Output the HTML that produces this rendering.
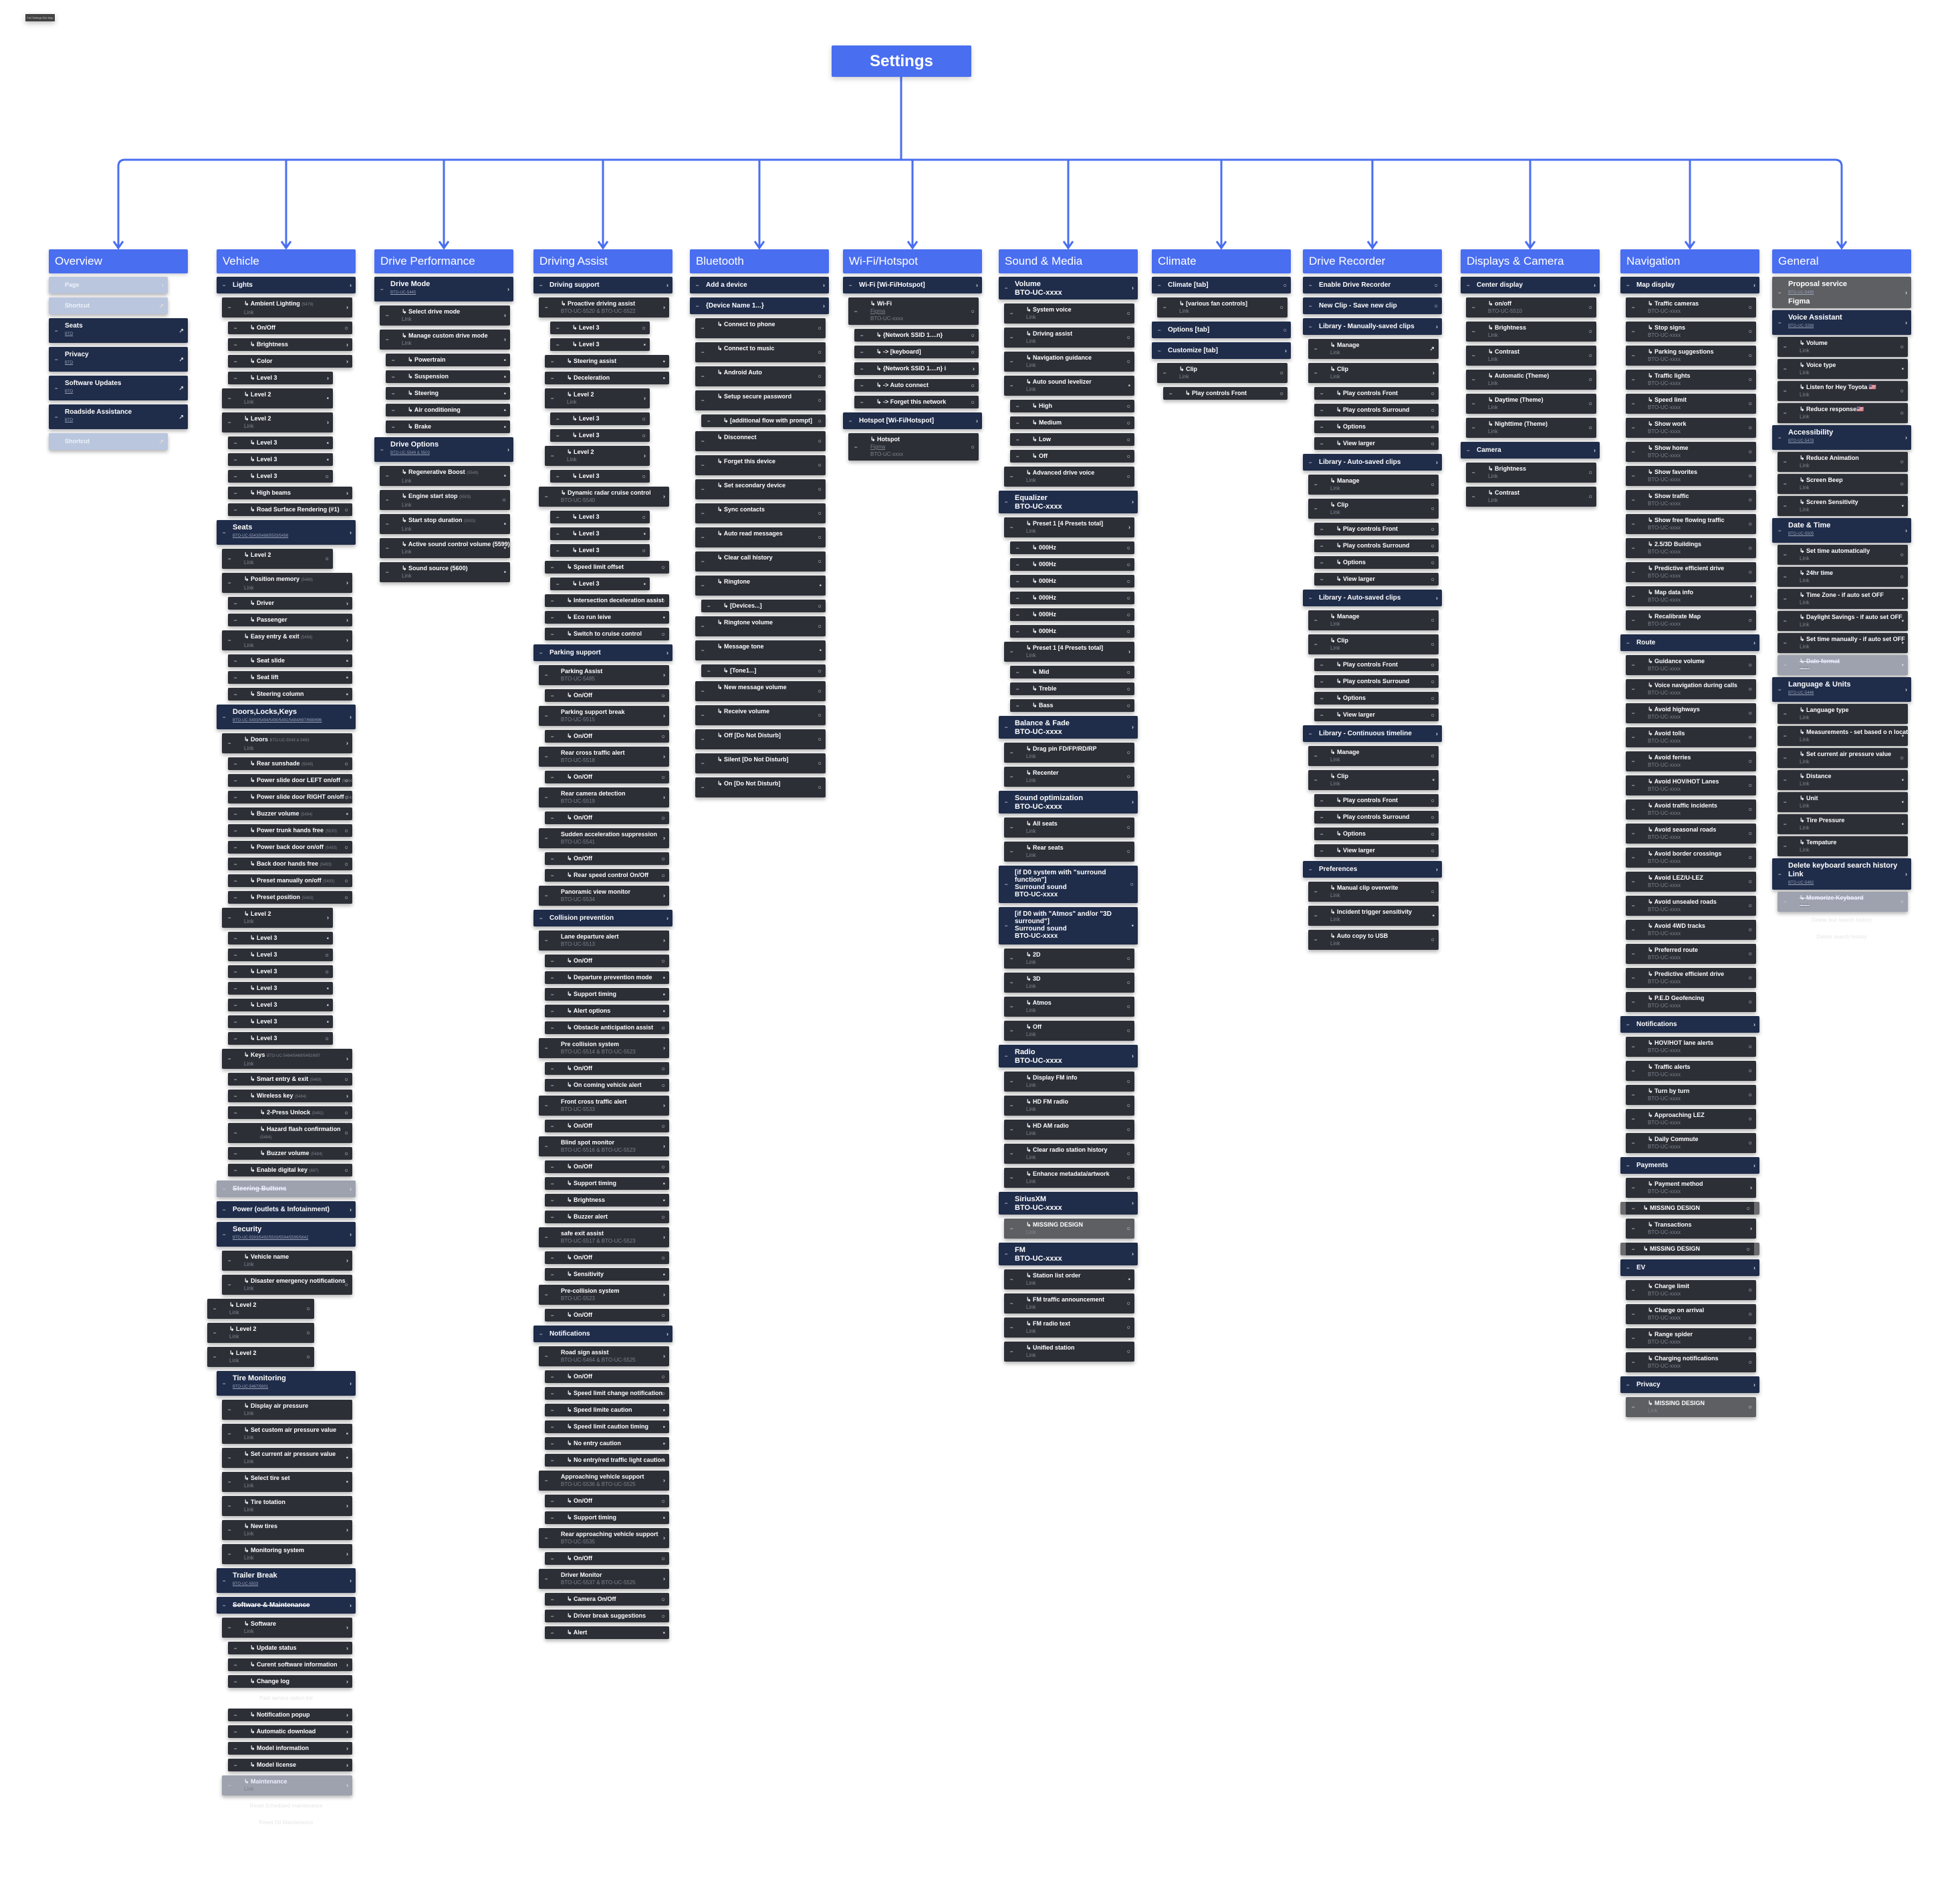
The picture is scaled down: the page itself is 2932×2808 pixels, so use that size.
<!DOCTYPE html>
<html><head><meta charset="utf-8">
<style>
*{margin:0;padding:0;box-sizing:border-box}
body{width:2932px;height:2808px;background:#fff;position:relative;overflow:hidden;font-family:"Liberation Sans",sans-serif}
svg.cn{position:absolute;left:0;top:0}
.tag{position:absolute;left:38px;top:21px;width:44px;height:11px;background:#444;color:#ccc;font-size:4px;line-height:11px;text-align:center;box-shadow:0 3px 8px rgba(0,0,0,.25)}
.set{position:absolute;left:1244px;top:68px;width:209px;height:47px;background:#4a6ef0;color:#fff;font:bold 24px "Liberation Sans",sans-serif;text-align:center;line-height:47px;border-radius:2px;box-shadow:0 3px 8px rgba(0,0,0,.2)}
.col{position:absolute;top:373px;width:208px}
.t{height:36px;background:#4a6ef0;color:#fff;font-size:17px;line-height:36px;padding-left:9px;border-radius:2px;margin-bottom:5px;box-shadow:0 2px 6px rgba(0,0,0,.2)}
.c{position:relative;margin:0 0 6px 0;background:#2d2f37;color:#fff;font-weight:bold;font-size:9px;padding:0 16px 0 33px;border-radius:2px;box-shadow:0 3px 6px rgba(0,0,0,.3);white-space:nowrap;overflow:hidden}
.c::before{content:"–";position:absolute;left:9px;top:50%;transform:translateY(-50%);font-size:8px;color:#ccc}
.a{height:19px;line-height:19px}
.b{height:30px;line-height:11px;padding-top:4px}
.w{height:41px;line-height:11px;padding-top:4px}
.h{height:25px;line-height:25px;background:#1f2c4a;font-size:10px;padding-left:24px}
.H{height:37px;line-height:13px;padding-top:5px;background:#1f2c4a;font-size:11px;padding-left:24px}
.Q{height:56px;line-height:11px;padding-top:5px;background:#1f2c4a;font-size:10px;padding-left:24px;white-space:normal}
.c em{font-style:normal;font-weight:normal;color:#7d818c;font-size:6px}
.c u{display:block;text-decoration:none;font-weight:normal;color:#7d818c;font-size:8px}
.H u,.Q u{font-size:6px;color:#9aa3b8;text-decoration:underline}
.c i{position:absolute;right:6px;top:50%;transform:translateY(-50%);font-style:normal;font-size:9px;color:#ddd}
.l1{margin-left:8px;margin-right:5px}
.l2{margin-left:17px;margin-right:5px}
.l3{margin-left:25px;margin-right:5px}
.s{margin-right:34px}
.x{padding-left:48px}
.g{background:#9da2ae;color:#eef;text-decoration:line-through}
.lt{background:#bac6de;color:#eef2fa;margin-right:30px;height:25px;line-height:25px;padding-left:24px}
.gr{background:#5e5f63}
.sh{margin-left:-14px;width:160px}
.fd{height:19px;line-height:19px;font-size:8px;color:#e6e6ea;text-align:center;margin-bottom:6px}
.md{border-left:8px solid #6b6b6e;border-right:8px solid #6b6b6e;padding-left:26px}
.tight .c{margin-bottom:3px}
</style></head><body>
<div class="tag">Full Settings Site Map</div>
<svg class="cn" width="2932" height="2808" fill="none" stroke="#4a6ef0" stroke-width="3">
<path d="M1348 115V239"/>
<path d="M177 371V249Q177 239 187 239H2745Q2755 239 2755 249V371"/>
<path d="M428 239V371M664 239V371M902 239V371M1136 239V371M1365 239V371M1598 239V371M1827 239V371M2053 239V371M2289 239V371M2528 239V371"/>
<path d="M170 361L177 371L184 361M421 361L428 371L435 361M657 361L664 371L671 361M895 361L902 371L909 361M1129 361L1136 371L1143 361M1358 361L1365 371L1372 361M1591 361L1598 371L1605 361M1820 361L1827 371L1834 361M2046 361L2053 371L2060 361M2282 361L2289 371L2296 361M2521 361L2528 371L2535 361M2748 361L2755 371L2762 361"/>
</svg>
<div class="set">Settings</div>

<!-- Overview -->
<div class="col" style="left:73px">
<div class="t">Overview</div>
<div class="c lt">Page<i>›</i></div>
<div class="c lt">Shortcut<i>↗</i></div>
<div class="c H" style="font-size:10px">Seats<u>BTO</u><i>↗</i></div>
<div class="c H" style="font-size:10px">Privacy<u>BTO</u><i>↗</i></div>
<div class="c H" style="font-size:10px">Software Updates<u>BTO</u><i>↗</i></div>
<div class="c H" style="font-size:10px">Roadside Assistance<u>BTO</u><i>↗</i></div>
<div class="c lt">Shortcut<i>↗</i></div>
</div>

<!-- Vehicle -->
<div class="col" style="left:324px">
<div class="t">Vehicle</div>
<div class="c h">Lights<i>›</i></div>
<div class="c b l1">↳ Ambient Lighting <em>(5479)</em><u>Link</u><i>›</i></div>
<div class="c a l2">↳ On/Off<i>○</i></div>
<div class="c a l2">↳ Brightness<i>›</i></div>
<div class="c a l2">↳ Color<i>›</i></div>
<div class="c a l2 s">↳ Level 3<i>›</i></div>
<div class="c b l1 s">↳ Level 2<u>Link</u><i>▪</i></div>
<div class="c b l1 s">↳ Level 2<u>Link</u><i>›</i></div>
<div class="c a l2 s">↳ Level 3<i>▪</i></div>
<div class="c a l2 s">↳ Level 3<i>▪</i></div>
<div class="c a l2 s">↳ Level 3<i>○</i></div>
<div class="c a l2">↳ High beams<i>›</i></div>
<div class="c a l2">↳ Road Surface Rendering (#1)<i>○</i></div>
<div class="c H">Seats<u>BTO-UC-5543/5488/5503/5456</u><i>›</i></div>
<div class="c b l1 s">↳ Level 2<u>Link</u><i>○</i></div>
<div class="c b l1">↳ Position memory <em>(5488)</em><u>Link</u><i>›</i></div>
<div class="c a l2">↳ Driver<i>›</i></div>
<div class="c a l2">↳ Passenger<i>›</i></div>
<div class="c b l1">↳ Easy entry &amp; exit <em>(5456)</em><u>Link</u><i>›</i></div>
<div class="c a l2">↳ Seat slide<i>▪</i></div>
<div class="c a l2">↳ Seat lift<i>▪</i></div>
<div class="c a l2">↳ Steering column<i>▪</i></div>
<div class="c H">Doors,Locks,Keys<u>BTO-UC-5493/5494/5490/5491/5484/697/698/696</u><i>›</i></div>
<div class="c b l1">↳ Doors <em>BTO-UC-5549 &amp; 5493</em><u>Link</u><i>›</i></div>
<div class="c a l2">↳ Rear sunshade <em>(5549)</em><i>○</i></div>
<div class="c a l2">↳ Power slide door LEFT on/off <em>(5494)</em><i>○</i></div>
<div class="c a l2">↳ Power slide door RIGHT on/off <em>(5494)</em><i>○</i></div>
<div class="c a l2">↳ Buzzer volume <em>(5494)</em><i>▪</i></div>
<div class="c a l2">↳ Power trunk hands free <em>(5530)</em><i>○</i></div>
<div class="c a l2">↳ Power back door on/off <em>(5493)</em><i>○</i></div>
<div class="c a l2">↳ Back door hands free <em>(5493)</em><i>○</i></div>
<div class="c a l2">↳ Preset manually on/off <em>(5493)</em><i>○</i></div>
<div class="c a l2">↳ Preset position <em>(5493)</em><i>○</i></div>
<div class="c b l1 s">↳ Level 2<u>Link</u><i>›</i></div>
<div class="c a l2 s">↳ Level 3<i>▪</i></div>
<div class="c a l2 s">↳ Level 3<i>○</i></div>
<div class="c a l2 s">↳ Level 3<i>○</i></div>
<div class="c a l2 s">↳ Level 3<i>▪</i></div>
<div class="c a l2 s">↳ Level 3<i>▪</i></div>
<div class="c a l2 s">↳ Level 3<i>▪</i></div>
<div class="c a l2 s">↳ Level 3<i>○</i></div>
<div class="c b l1">↳ Keys <em>BTO-UC-5484/5469/5492/697</em><u>Link</u><i>›</i></div>
<div class="c a l2">↳ Smart entry &amp; exit <em>(5469)</em><i>○</i></div>
<div class="c a l2">↳ Wireless key <em>(5484)</em><i>›</i></div>
<div class="c a l2 x">↳ 2-Press Unlock <em>(5492)</em><i>○</i></div>
<div class="c b l2 x">↳ Hazard flash confirmation<br><em>(5484)</em><i>○</i></div>
<div class="c a l2 x">↳ Buzzer volume <em>(5484)</em><i>○</i></div>
<div class="c a l2">↳ Enable digital key <em>(697)</em><i>○</i></div>
<div class="c h g">Steering Buttons<i>›</i></div>
<div class="c h">Power (outlets &amp; Infotainment)<i>›</i></div>
<div class="c H">Security<u>BTO-UC-5593/5492/5503/5594/5595/5642</u><i>›</i></div>
<div class="c b l1">↳ Vehicle name<u>Link</u><i>›</i></div>
<div class="c b l1">↳ Disaster emergency notifications<u>Link</u><i>○</i></div>
<div class="c b sh">↳ Level 2<u>Link</u><i>○</i></div>
<div class="c b sh">↳ Level 2<u>Link</u><i>○</i></div>
<div class="c b sh">↳ Level 2<u>Link</u><i>○</i></div>
<div class="c H">Tire Monitoring<u>BTO-UC-5467/5601</u><i>›</i></div>
<div class="c b l1">↳ Display air pressure<u>Link</u></div>
<div class="c b l1">↳ Set custom air pressure value<u>Link</u><i>▪</i></div>
<div class="c b l1">↳ Set current air pressure value<u>Link</u><i>▪</i></div>
<div class="c b l1">↳ Select tire set<u>Link</u><i>▪</i></div>
<div class="c b l1">↳ Tire totation<u>Link</u><i>›</i></div>
<div class="c b l1">↳ New tires<u>Link</u><i>›</i></div>
<div class="c b l1">↳ Monitoring system<u>Link</u><i>›</i></div>
<div class="c H">Trailer Break<u>BTO-UC-5503</u><i>›</i></div>
<div class="c h" style="text-decoration:line-through">Software &amp; Maintenance<i>›</i></div>
<div class="c b l1">↳ Software<u>Link</u><i>›</i></div>
<div class="c a l2">↳ Update status<i>›</i></div>
<div class="c a l2">↳ Curent software information<i>›</i></div>
<div class="c a l2">↳ Change log<i>›</i></div>
<div class="fd">Paid service option list</div>
<div class="c a l2">↳ Notification popup<i>›</i></div>
<div class="c a l2">↳ Automatic download<i>›</i></div>
<div class="c a l2">↳ Model information<i>›</i></div>
<div class="c a l2">↳ Model license<i>›</i></div>
<div class="c b l1 g" style="text-decoration:none">↳ Maintenance<u>Link</u><i>›</i></div>
<div class="fd">Reset Scheduled maintenance</div>
<div class="fd">Reset Oil Maintenance</div>
</div>

<!-- Drive Performance -->
<div class="col" style="left:560px">
<div class="t">Drive Performance</div>
<div class="c H">Drive Mode<u>BTO-UC-5445</u><i>›</i></div>
<div class="c b l1">↳ Select drive mode<u>Link</u><i>›</i></div>
<div class="c b l1">↳ Manage custom drive mode<u>Link</u><i>›</i></div>
<div class="c a l2">↳ Powertrain<i>▪</i></div>
<div class="c a l2">↳ Suspension<i>▪</i></div>
<div class="c a l2">↳ Steering<i>▪</i></div>
<div class="c a l2">↳ Air conditioning<i>▪</i></div>
<div class="c a l2">↳ Brake<i>▪</i></div>
<div class="c H">Drive Options<u>BTO-UC-5549 &amp; 5503</u><i>›</i></div>
<div class="c b l1">↳ Regenerative Boost <em>(5549)</em><u>Link</u><i>▪</i></div>
<div class="c b l1">↳ Engine start stop <em>(5503)</em><u>Link</u><i>○</i></div>
<div class="c b l1">↳ Start stop duration <em>(5503)</em><u>Link</u><i>▪</i></div>
<div class="c b l1">↳ Active sound control volume (5599)<u>Link</u><i>▪</i></div>
<div class="c b l1">↳ Sound source (5600)<u>Link</u><i>▪</i></div>
</div>

<!-- Driving Assist -->
<div class="col" style="left:798px">
<div class="t">Driving Assist</div>
<div class="c h">Driving support<i>›</i></div>
<div class="c b l1">↳ Proactive driving assist<u>BTO-UC-5520 &amp; BTO-UC-5522</u><i>›</i></div>
<div class="c a l3 s">↳ Level 3<i>○</i></div>
<div class="c a l3 s">↳ Level 3<i>▪</i></div>
<div class="c a l2">↳ Steering assist<i>▪</i></div>
<div class="c a l2">↳ Deceleration<i>▪</i></div>
<div class="c b l2 s">↳ Level 2<u>Link</u><i>›</i></div>
<div class="c a l3 s">↳ Level 3<i>○</i></div>
<div class="c a l3 s">↳ Level 3<i>○</i></div>
<div class="c b l2 s">↳ Level 2<u>Link</u><i>›</i></div>
<div class="c a l3 s">↳ Level 3<i>○</i></div>
<div class="c b l1">↳ Dynamic radar cruise control<u>BTO-UC-5540</u><i>›</i></div>
<div class="c a l3 s">↳ Level 3<i>○</i></div>
<div class="c a l3 s">↳ Level 3<i>▪</i></div>
<div class="c a l3 s">↳ Level 3<i>○</i></div>
<div class="c a l2">↳ Speed limit offset<i>○</i></div>
<div class="c a l3 s">↳ Level 3<i>▪</i></div>
<div class="c a l2">↳ Intersection deceleration assist<i>○</i></div>
<div class="c a l2">↳ Eco run leive<i>▪</i></div>
<div class="c a l2">↳ Switch to cruise control<i>○</i></div>
<div class="c h">Parking support<i>›</i></div>
<div class="c b l1">Parking Assist<u>BTO-UC-5485</u><i>›</i></div>
<div class="c a l2">↳ On/Off<i>○</i></div>
<div class="c b l1">Parking support break<u>BTO-UC-5515</u><i>›</i></div>
<div class="c a l2">↳ On/Off<i>○</i></div>
<div class="c b l1">Rear cross traffic alert<u>BTO-UC-5518</u><i>›</i></div>
<div class="c a l2">↳ On/Off<i>○</i></div>
<div class="c b l1">Rear camera detection<u>BTO-UC-5519</u><i>›</i></div>
<div class="c a l2">↳ On/Off<i>○</i></div>
<div class="c b l1">Sudden acceleration suppression<u>BTO-UC-5541</u><i>›</i></div>
<div class="c a l2">↳ On/Off<i>○</i></div>
<div class="c a l2">↳ Rear speed control On/Off<i>○</i></div>
<div class="c b l1">Panoramic view monitor<u>BTO-UC-5534</u><i>›</i></div>
<div class="c h">Collision prevention<i>›</i></div>
<div class="c b l1">Lane departure alert<u>BTO-UC-5513</u><i>›</i></div>
<div class="c a l2">↳ On/Off<i>○</i></div>
<div class="c a l2">↳ Departure prevention mode<i>▪</i></div>
<div class="c a l2">↳ Support timing<i>▪</i></div>
<div class="c a l2">↳ Alert options<i>▪</i></div>
<div class="c a l2">↳ Obstacle anticipation assist<i>○</i></div>
<div class="c b l1">Pre collision system<u>BTO-UC-5514 &amp; BTO-UC-5523</u><i>›</i></div>
<div class="c a l2">↳ On/Off<i>○</i></div>
<div class="c a l2">↳ On coming vehicle alert<i>○</i></div>
<div class="c b l1">Front cross traffic alert<u>BTO-UC-5533</u><i>›</i></div>
<div class="c a l2">↳ On/Off<i>○</i></div>
<div class="c b l1">Blind spot monitor<u>BTO-UC-5516 &amp; BTO-UC-5523</u><i>›</i></div>
<div class="c a l2">↳ On/Off<i>○</i></div>
<div class="c a l2">↳ Support timing<i>▪</i></div>
<div class="c a l2">↳ Brightness<i>▪</i></div>
<div class="c a l2">↳ Buzzer alert<i>○</i></div>
<div class="c b l1">safe exit assist<u>BTO-UC-5517 &amp; BTO-UC-5523</u><i>›</i></div>
<div class="c a l2">↳ On/Off<i>○</i></div>
<div class="c a l2">↳ Sensitivity<i>▪</i></div>
<div class="c b l1">Pre-collision system<u>BTO-UC-5523</u><i>›</i></div>
<div class="c a l2">↳ On/Off<i>○</i></div>
<div class="c h">Notifications<i>›</i></div>
<div class="c b l1">Road sign assist<u>BTO-UC-5464 &amp; BTO-UC-5525</u><i>›</i></div>
<div class="c a l2">↳ On/Off<i>○</i></div>
<div class="c a l2">↳ Speed limit change notification<i>○</i></div>
<div class="c a l2">↳ Speed limite caution<i>▪</i></div>
<div class="c a l2">↳ Speed limit caution timing<i>▪</i></div>
<div class="c a l2">↳ No entry caution<i>▪</i></div>
<div class="c a l2">↳ No entry/red traffic light caution<i>▪</i></div>
<div class="c b l1">Approaching vehicle support<u>BTO-UC-5536 &amp; BTO-UC-5525</u><i>›</i></div>
<div class="c a l2">↳ On/Off<i>○</i></div>
<div class="c a l2">↳ Support timing<i>▪</i></div>
<div class="c b l1">Rear approaching vehicle support<u>BTO-UC-5535</u><i>›</i></div>
<div class="c a l2">↳ On/Off<i>○</i></div>
<div class="c b l1">Driver Monitor<u>BTO-UC-5537 &amp; BTO-UC-5525</u><i>›</i></div>
<div class="c a l2">↳ Camera On/Off<i>○</i></div>
<div class="c a l2">↳ Driver break suggestions<i>○</i></div>
<div class="c a l2">↳ Alert<i>▪</i></div>
</div>

<!-- Bluetooth -->
<div class="col" style="left:1032px">
<div class="t">Bluetooth</div>
<div class="c h">Add a device<i>›</i></div>
<div class="c h">{Device Name 1...}<i>›</i></div>
<div class="c b l1">↳ Connect to phone<i>○</i></div>
<div class="c b l1">↳ Connect to music<i>○</i></div>
<div class="c b l1">↳ Android Auto<i>○</i></div>
<div class="c b l1">↳ Setup secure password<i>○</i></div>
<div class="c a l2">↳ [additional flow with prompt]<i>○</i></div>
<div class="c b l1">↳ Disconnect<i>○</i></div>
<div class="c b l1">↳ Forget this device<i>○</i></div>
<div class="c b l1">↳ Set secondary device<i>○</i></div>
<div class="c b l1">↳ Sync contacts<i>○</i></div>
<div class="c b l1">↳ Auto read messages<i>○</i></div>
<div class="c b l1">↳ Clear call history<i>○</i></div>
<div class="c b l1">↳ Ringtone<i>▪</i></div>
<div class="c a l2">↳ [Devices...]<i>○</i></div>
<div class="c b l1">↳ Ringtone volume<i>○</i></div>
<div class="c b l1">↳ Message tone<i>▪</i></div>
<div class="c a l2">↳ [Tone1...]<i>○</i></div>
<div class="c b l1">↳ New message volume<i>○</i></div>
<div class="c b l1">↳ Receive volume<i>○</i></div>
<div class="c b l1">↳ Off [Do Not Disturb]<i>○</i></div>
<div class="c b l1">↳ Silent [Do Not Disturb]<i>○</i></div>
<div class="c b l1">↳ On [Do Not Disturb]<i>○</i></div>
</div>

<!-- Wi-Fi -->
<div class="col" style="left:1261px">
<div class="t">Wi-Fi/Hotspot</div>
<div class="c h">Wi-Fi [Wi-Fi/Hotspot]<i>›</i></div>
<div class="c w l1">↳ Wi-Fi<u style="text-decoration:underline">Figma</u><u>BTO-UC-xxxx</u><i>○</i></div>
<div class="c a l2">↳ {Network SSID 1....n}<i>○</i></div>
<div class="c a l2">↳ -&gt; [keyboard]<i>○</i></div>
<div class="c a l2">↳ {Network SSID 1....n} i<i>›</i></div>
<div class="c a l2">↳ -&gt; Auto connect<i>○</i></div>
<div class="c a l2">↳ -&gt; Forget this network<i>○</i></div>
<div class="c h">Hotspot [Wi-Fi/Hotspot]<i>›</i></div>
<div class="c w l1">↳ Hotspot<u style="text-decoration:underline">Figma</u><u>BTO-UC-xxxx</u><i>○</i></div>
</div>

<!-- Sound & Media -->
<div class="col" style="left:1494px">
<div class="t">Sound &amp; Media</div>
<div class="c H" style="height:34px">Volume<br>BTO-UC-xxxx<i>›</i></div>
<div class="c b l1">↳ System voice<u>Link</u><i>○</i></div>
<div class="c b l1">↳ Driving assist<u>Link</u><i>○</i></div>
<div class="c b l1">↳ Navigation guidance<u>Link</u><i>○</i></div>
<div class="c b l1">↳ Auto sound levelizer<u>Link</u><i>▪</i></div>
<div class="c a l2">↳ High<i>○</i></div>
<div class="c a l2">↳ Medium<i>○</i></div>
<div class="c a l2">↳ Low<i>○</i></div>
<div class="c a l2">↳ Off<i>○</i></div>
<div class="c b l1">↳ Advanced drive voice<u>Link</u><i>○</i></div>
<div class="c H" style="height:34px">Equalizer<br>BTO-UC-xxxx<i>›</i></div>
<div class="c b l1">↳ Preset 1 [4 Presets total]<u>Link</u><i>›</i></div>
<div class="c a l2">↳ 000Hz<i>○</i></div>
<div class="c a l2">↳ 000Hz<i>○</i></div>
<div class="c a l2">↳ 000Hz<i>○</i></div>
<div class="c a l2">↳ 000Hz<i>○</i></div>
<div class="c a l2">↳ 000Hz<i>○</i></div>
<div class="c a l2">↳ 000Hz<i>○</i></div>
<div class="c b l1">↳ Preset 1 [4 Presets total]<u>Link</u><i>›</i></div>
<div class="c a l2">↳ Mid<i>○</i></div>
<div class="c a l2">↳ Treble<i>○</i></div>
<div class="c a l2">↳ Bass<i>○</i></div>
<div class="c H" style="height:34px">Balance &amp; Fade<br>BTO-UC-xxxx<i>›</i></div>
<div class="c b l1">↳ Drag pin FD/FP/RD/RP<u>Link</u><i>○</i></div>
<div class="c b l1">↳ Recenter<u>Link</u><i>○</i></div>
<div class="c H" style="height:34px">Sound optimization<br>BTO-UC-xxxx<i>›</i></div>
<div class="c b l1">↳ All seats<u>Link</u><i>○</i></div>
<div class="c b l1">↳ Rear seats<u>Link</u><i>○</i></div>
<div class="c Q">[if D0 system with "surround<br>function"]<br>Surround sound<br>BTO-UC-xxxx<i>○</i></div>
<div class="c Q">[if D0 with "Atmos" and/or "3D<br>surround"]<br>Surround sound<br>BTO-UC-xxxx<i>▪</i></div>
<div class="c b l1">↳ 2D<u>Link</u><i>○</i></div>
<div class="c b l1">↳ 3D<u>Link</u><i>○</i></div>
<div class="c b l1">↳ Atmos<u>Link</u><i>○</i></div>
<div class="c b l1">↳ Off<u>Link</u><i>○</i></div>
<div class="c H" style="height:34px">Radio<br>BTO-UC-xxxx<i>›</i></div>
<div class="c b l1">↳ Display FM info<u>Link</u><i>○</i></div>
<div class="c b l1">↳ HD FM radio<u>Link</u><i>○</i></div>
<div class="c b l1">↳ HD AM radio<u>Link</u><i>○</i></div>
<div class="c b l1">↳ Clear radio station history<u>Link</u><i>○</i></div>
<div class="c b l1">↳ Enhance metadata/artwork<u>Link</u><i>○</i></div>
<div class="c H" style="height:34px">SiriusXM<br>BTO-UC-xxxx<i>›</i></div>
<div class="c b l1 gr">↳ MISSING DESIGN<u>Link</u><i>○</i></div>
<div class="c H" style="height:34px">FM<br>BTO-UC-xxxx<i>›</i></div>
<div class="c b l1">↳ Station list order<u>Link</u><i>▪</i></div>
<div class="c b l1">↳ FM traffic announcement<u>Link</u><i>○</i></div>
<div class="c b l1">↳ FM radio text<u>Link</u><i>○</i></div>
<div class="c b l1">↳ Unified station<u>Link</u><i>○</i></div>
</div>

<!-- Climate -->
<div class="col" style="left:1723px">
<div class="t">Climate</div>
<div class="c h">Climate [tab]<i>○</i></div>
<div class="c b l1">↳ [various fan controls]<u>Link</u><i>○</i></div>
<div class="c h">Options [tab]<i>○</i></div>
<div class="c h">Customize [tab]<i>›</i></div>
<div class="c b l1">↳ Clip<u>Link</u><i>○</i></div>
<div class="c a l2">↳ Play controls Front<i>○</i></div>
</div>

<!-- Drive Recorder -->
<div class="col" style="left:1949px">
<div class="t">Drive Recorder</div>
<div class="c h">Enable Drive Recorder<i>○</i></div>
<div class="c h">New Clip - Save new clip<i>○</i></div>
<div class="c h">Library - Manually-saved clips<i>›</i></div>
<div class="c b l1">↳ Manage<u>Link</u><i>↗</i></div>
<div class="c b l1">↳ Clip<u>Link</u><i>›</i></div>
<div class="c a l2">↳ Play controls Front<i>○</i></div>
<div class="c a l2">↳ Play controls Surround<i>○</i></div>
<div class="c a l2">↳ Options<i>○</i></div>
<div class="c a l2">↳ View larger<i>○</i></div>
<div class="c h">Library - Auto-saved clips<i>›</i></div>
<div class="c b l1">↳ Manage<u>Link</u><i>○</i></div>
<div class="c b l1">↳ Clip<u>Link</u><i>○</i></div>
<div class="c a l2">↳ Play controls Front<i>○</i></div>
<div class="c a l2">↳ Play controls Surround<i>○</i></div>
<div class="c a l2">↳ Options<i>○</i></div>
<div class="c a l2">↳ View larger<i>○</i></div>
<div class="c h">Library - Auto-saved clips<i>›</i></div>
<div class="c b l1">↳ Manage<u>Link</u><i>○</i></div>
<div class="c b l1">↳ Clip<u>Link</u><i>○</i></div>
<div class="c a l2">↳ Play controls Front<i>○</i></div>
<div class="c a l2">↳ Play controls Surround<i>○</i></div>
<div class="c a l2">↳ Options<i>○</i></div>
<div class="c a l2">↳ View larger<i>○</i></div>
<div class="c h">Library - Continuous timeline<i>›</i></div>
<div class="c b l1">↳ Manage<u>Link</u><i>○</i></div>
<div class="c b l1">↳ Clip<u>Link</u><i>▪</i></div>
<div class="c a l2">↳ Play controls Front<i>○</i></div>
<div class="c a l2">↳ Play controls Surround<i>○</i></div>
<div class="c a l2">↳ Options<i>○</i></div>
<div class="c a l2">↳ View larger<i>○</i></div>
<div class="c h">Preferences<i>›</i></div>
<div class="c b l1">↳ Manual clip overwrite<u>Link</u><i>○</i></div>
<div class="c b l1">↳ Incident trigger sensitivity<u>Link</u><i>▪</i></div>
<div class="c b l1">↳ Auto copy to USB<u>Link</u><i>○</i></div>
</div>

<!-- Displays & Camera -->
<div class="col" style="left:2185px">
<div class="t">Displays &amp; Camera</div>
<div class="c h">Center display<i>›</i></div>
<div class="c b l1">↳ on/off<u>BTO-UC-5510</u><i>○</i></div>
<div class="c b l1">↳ Brightness<u>Link</u><i>○</i></div>
<div class="c b l1">↳ Contrast<u>Link</u><i>○</i></div>
<div class="c b l1">↳ Automatic (Theme)<u>Link</u><i>○</i></div>
<div class="c b l1">↳ Daytime (Theme)<u>Link</u><i>○</i></div>
<div class="c b l1">↳ Nighttime (Theme)<u>Link</u><i>○</i></div>
<div class="c h">Camera<i>›</i></div>
<div class="c b l1">↳ Brightness<u>Link</u><i>○</i></div>
<div class="c b l1">↳ Contrast<u>Link</u><i>○</i></div>
</div>

<!-- Navigation -->
<div class="col" style="left:2424px">
<div class="t">Navigation</div>
<div class="c h">Map display<i>›</i></div>
<div class="c b l1">↳ Traffic cameras<u>BTO-UC-xxxx</u><i>○</i></div>
<div class="c b l1">↳ Stop signs<u>BTO-UC-xxxx</u><i>○</i></div>
<div class="c b l1">↳ Parking suggestions<u>BTO-UC-xxxx</u><i>○</i></div>
<div class="c b l1">↳ Traffic lights<u>BTO-UC-xxxx</u><i>○</i></div>
<div class="c b l1">↳ Speed limit<u>BTO-UC-xxxx</u><i>○</i></div>
<div class="c b l1">↳ Show work<u>BTO-UC-xxxx</u><i>○</i></div>
<div class="c b l1">↳ Show home<u>BTO-UC-xxxx</u><i>○</i></div>
<div class="c b l1">↳ Show favorites<u>BTO-UC-xxxx</u><i>○</i></div>
<div class="c b l1">↳ Show traffic<u>BTO-UC-xxxx</u><i>○</i></div>
<div class="c b l1">↳ Show free flowing traffic<u>BTO-UC-xxxx</u><i>○</i></div>
<div class="c b l1">↳ 2.5/3D Buildings<u>BTO-UC-xxxx</u><i>○</i></div>
<div class="c b l1">↳ Predictive efficient drive<u>BTO-UC-xxxx</u><i>○</i></div>
<div class="c b l1">↳ Map data info<u>BTO-UC-xxxx</u><i>›</i></div>
<div class="c b l1">↳ Recalibrate Map<u>BTO-UC-xxxx</u><i>○</i></div>
<div class="c h">Route<i>›</i></div>
<div class="c b l1">↳ Guidance volume<u>BTO-UC-xxxx</u><i>○</i></div>
<div class="c b l1">↳ Voice navigation during calls<u>BTO-UC-xxxx</u><i>○</i></div>
<div class="c b l1">↳ Avoid highways<u>BTO-UC-xxxx</u><i>○</i></div>
<div class="c b l1">↳ Avoid tolls<u>BTO-UC-xxxx</u><i>○</i></div>
<div class="c b l1">↳ Avoid ferries<u>BTO-UC-xxxx</u><i>○</i></div>
<div class="c b l1">↳ Avoid HOV/HOT Lanes<u>BTO-UC-xxxx</u><i>○</i></div>
<div class="c b l1">↳ Avoid traffic incidents<u>BTO-UC-xxxx</u><i>○</i></div>
<div class="c b l1">↳ Avoid seasonal roads<u>BTO-UC-xxxx</u><i>○</i></div>
<div class="c b l1">↳ Avoid border crossings<u>BTO-UC-xxxx</u><i>○</i></div>
<div class="c b l1">↳ Avoid LEZ/U-LEZ<u>BTO-UC-xxxx</u><i>○</i></div>
<div class="c b l1">↳ Avoid unsealed roads<u>BTO-UC-xxxx</u><i>○</i></div>
<div class="c b l1">↳ Avoid 4WD tracks<u>BTO-UC-xxxx</u><i>○</i></div>
<div class="c b l1">↳ Preferred route<u>BTO-UC-xxxx</u><i>○</i></div>
<div class="c b l1">↳ Predictive efficient drive<u>BTO-UC-xxxx</u><i>○</i></div>
<div class="c b l1">↳ P.E.D Geofencing<u>BTO-UC-xxxx</u><i>○</i></div>
<div class="c h">Notifications<i>›</i></div>
<div class="c b l1">↳ HOV/HOT lane alerts<u>BTO-UC-xxxx</u><i>○</i></div>
<div class="c b l1">↳ Traffic alerts<u>BTO-UC-xxxx</u><i>○</i></div>
<div class="c b l1">↳ Turn by turn<u>BTO-UC-xxxx</u><i>○</i></div>
<div class="c b l1">↳ Approaching LEZ<u>BTO-UC-xxxx</u><i>○</i></div>
<div class="c b l1">↳ Daily Commute<u>BTO-UC-xxxx</u><i>○</i></div>
<div class="c h">Payments<i>›</i></div>
<div class="c b l1">↳ Payment method<u>BTO-UC-xxxx</u><i>›</i></div>
<div class="c a md">↳ MISSING DESIGN<i>○</i></div>
<div class="c b l1">↳ Transactions<u>BTO-UC-xxxx</u><i>›</i></div>
<div class="c a md">↳ MISSING DESIGN<i>○</i></div>
<div class="c h">EV<i>›</i></div>
<div class="c b l1">↳ Charge limit<u>BTO-UC-xxxx</u><i>○</i></div>
<div class="c b l1">↳ Charge on arrival<u>BTO-UC-xxxx</u><i>○</i></div>
<div class="c b l1">↳ Range spider<u>BTO-UC-xxxx</u><i>○</i></div>
<div class="c b l1">↳ Charging notifications<u>BTO-UC-xxxx</u><i>○</i></div>
<div class="c h">Privacy<i>›</i></div>
<div class="c b l1 gr">↳ MISSING DESIGN<u>Link</u><i>○</i></div>
</div>

<!-- General -->
<div class="col tight" style="left:2651px">
<div class="t">General</div>
<div class="c H gr" style="height:47px">Proposal service<u>BTO-UC-5499</u>Figma<i>›</i></div>
<div class="c H">Voice Assistant<u>BTO-UC-3288</u><i>›</i></div>
<div class="c b l1">↳ Volume<u>Link</u><i>○</i></div>
<div class="c b l1">↳ Voice type<u>Link</u><i>▪</i></div>
<div class="c b l1">↳ Listen for Hey Toyota 🇺🇸<u>Link</u><i>○</i></div>
<div class="c b l1">↳ Reduce response🇺🇸<u>Link</u><i>○</i></div>
<div class="c H">Accessibility<u>BTO-UC-5478</u><i>›</i></div>
<div class="c b l1">↳ Reduce Animation<u>Link</u><i>○</i></div>
<div class="c b l1">↳ Screen Beep<u>Link</u><i>○</i></div>
<div class="c b l1">↳ Screen Sensitivity<u>Link</u><i>▪</i></div>
<div class="c H">Date &amp; Time<u>BTO-UC-5505</u><i>›</i></div>
<div class="c b l1">↳ Set time automatically<u>Link</u><i>○</i></div>
<div class="c b l1">↳ 24hr time<u>Link</u><i>○</i></div>
<div class="c b l1">↳ Time Zone - if auto set OFF<u>Link</u><i>▪</i></div>
<div class="c b l1">↳ Daylight Savings -  if auto set OFF<u>Link</u><i>▪</i></div>
<div class="c b l1">↳ Set time manually -  if auto set OFF<u>Link</u><i>▪</i></div>
<div class="c b l1 g">↳ Date format<u>Link</u><i>▪</i></div>
<div class="c H">Language &amp; Units<u>BTO-UC-5446</u><i>›</i></div>
<div class="c b l1">↳ Language type<u>Link</u></div>
<div class="c b l1">↳ Measurements - set based o n location<u>Link</u><i>▪</i></div>
<div class="c b l1">↳ Set current air pressure value<u>Link</u><i>○</i></div>
<div class="c b l1">↳ Distance<u>Link</u><i>▪</i></div>
<div class="c b l1">↳ Unit<u>Link</u><i>▪</i></div>
<div class="c b l1">↳ Tire Pressure<u>Link</u><i>▪</i></div>
<div class="c b l1">↳ Tempature<u>Link</u></div>
<div class="c H" style="height:47px">Delete keyboard search history<br>Link<u>BTO-UC-5482</u><i>›</i></div>
<div class="c b l1 g">↳ Memorize Keyboard<u>Link</u><i>○</i></div>
<div class="fd">Delete text search history</div>
<div class="fd">Delete search history</div>
</div>
</body></html>
